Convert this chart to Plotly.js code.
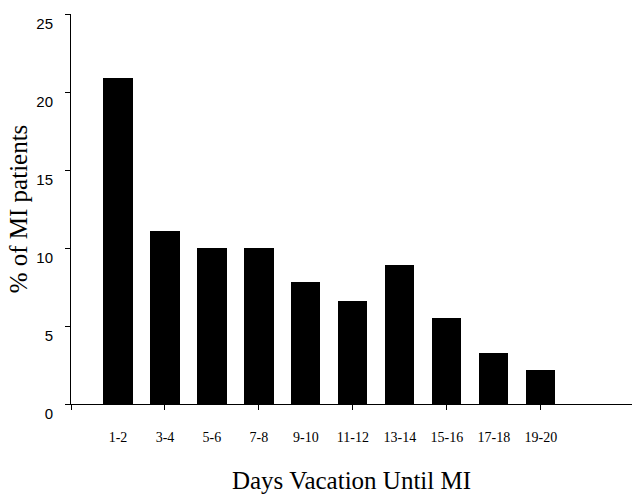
<!DOCTYPE html>
<html>
<head>
<meta charset="utf-8">
<script src="https://cdn.plot.ly/plotly-3.0.1.min.js"></script>
<style>html,body{margin:0;padding:0;background:#fff;}#chart{width:634px;height:494px;}</style>
</head>
<body>
<div id="chart"></div>
<script>
const categories = ["1-2", "3-4", "5-6", "7-8", "9-10", "11-12", "13-14", "15-16", "17-18", "19-20"];
const percentMI = [20.9, 11.1, 10.0, 10.0, 7.8, 6.6, 8.9, 5.5, 3.3, 2.2];
const yTicks = [0, 5, 10, 15, 20, 25];

const idx = categories.map((c, i) => i);
const markTicks = [-1].concat(idx.filter(i => i % 2 === 1));
const xRange = [-1, 10.94];

const serif = "Liberation Serif, Times New Roman, serif";
const sans = "Liberation Sans, Arial, sans-serif";

const data = [
  {
    type: "bar",
    x: idx,
    y: percentMI,
    width: 0.62,
    marker: {color: "#000000", line: {width: 0}},
    hoverinfo: "skip",
    showlegend: false
  },
  {
    type: "bar",
    x: idx,
    y: percentMI,
    xaxis: "x2",
    width: 0.62,
    marker: {color: "rgba(0,0,0,0)"},
    hoverinfo: "skip",
    showlegend: false
  }
];

const layout = {
  width: 634,
  height: 494,
  margin: {l: 71, r: 2, t: 14, b: 90},
  paper_bgcolor: "#ffffff",
  plot_bgcolor: "#ffffff",
  showlegend: false,
  bargap: 0,
  barmode: "overlay",
  xaxis: {
    type: "linear",
    range: xRange,
    tickvals: idx,
    ticktext: categories,
    ticks: "",
    ticklabelstandoff: 20,
    tickfont: {family: serif, size: 14, color: "#000"},
    showline: true,
    linecolor: "#000",
    linewidth: 1,
    showgrid: false,
    zeroline: false,
    title: {text: "Days Vacation Until MI", font: {family: serif, size: 25, color: "#000"}, standoff: 30},
    fixedrange: true
  },
  xaxis2: {
    type: "linear",
    overlaying: "x",
    anchor: "y",
    side: "bottom",
    range: xRange,
    tickvals: markTicks,
    ticks: "outside",
    ticklen: 5,
    tickwidth: 1,
    tickcolor: "#000",
    showticklabels: false,
    showline: false,
    showgrid: false,
    zeroline: false,
    fixedrange: true
  },
  yaxis: {
    range: [0, 25],
    tickvals: yTicks,
    ticks: "outside",
    ticklen: 5,
    tickwidth: 1,
    tickcolor: "#000",
    ticklabelstandoff: 9,
    ticklabelshift: 10,
    ticklabeloverflow: "allow",
    tickfont: {family: sans, size: 15, color: "#000"},
    showline: true,
    linecolor: "#000",
    linewidth: 1,
    showgrid: false,
    zeroline: false,
    title: {text: "% of MI patients", font: {family: serif, size: 25, color: "#000"}, standoff: 1},
    fixedrange: true
  }
};

Plotly.newPlot("chart", data, layout, {displayModeBar: false, staticPlot: true});
</script>
</body>
</html>
